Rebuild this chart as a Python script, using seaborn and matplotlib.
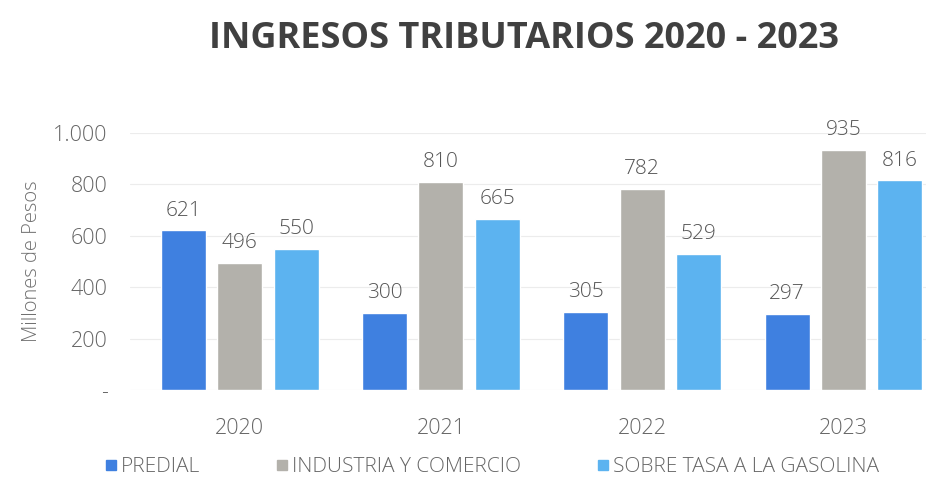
import matplotlib
matplotlib.use("Agg")
import matplotlib.pyplot as plt
import seaborn as sns
import pandas as pd
from matplotlib.lines import Line2D
from matplotlib.ticker import FuncFormatter

years = ["2020", "2021", "2022", "2023"]
series = ["PREDIAL", "INDUSTRIA Y COMERCIO", "SOBRE TASA A LA GASOLINA"]
predial = [621, 300, 305, 297]
industria = [496, 810, 782, 935]
gasolina = [550, 665, 529, 816]
colors = ["#3f80e0", "#b3b1ab", "#5cb3f0"]

df = pd.DataFrame({
    "year": years * 3,
    "serie": [series[0]] * 4 + [series[1]] * 4 + [series[2]] * 4,
    "value": predial + industria + gasolina,
})

sns.set_theme(style="white")
plt.rcParams['font.family'] = ['Open Sans', 'DejaVu Sans']
plt.rcParams['font.weight'] = 'light'

fig = plt.figure(figsize=(9.26, 4.88), dpi=100)
ax = fig.add_axes([130/926, 98/488, 1 - 130/926, 257/488])

sns.barplot(data=df, x="year", y="value", hue="serie", palette=colors,
            width=0.84, gap=0.2, ax=ax, legend=False, saturation=1)

for cont in ax.containers:
    for bar in cont:
        h = bar.get_height()
        ax.text(bar.get_x() + bar.get_width() / 2, h + 38, f"{int(round(h))}",
                ha="center", va="bottom", fontsize=15, color="#555555",
                fontweight="light")

ax.set_ylim(0, 1000)
ax.set_xlim(-0.545, 3.41)
ax.set_yticks([0, 200, 400, 600, 800, 1000])
ax.yaxis.set_major_formatter(FuncFormatter(
    lambda v, p: "-" if v == 0 else f"{int(v):,}".replace(",", ".")))
ax.grid(axis="y", color="#ececec", linewidth=0.8)
ax.set_axisbelow(True)
for s in ax.spines.values():
    s.set_visible(False)
ax.tick_params(axis="y", colors="#666666", labelsize=15.5, length=0, pad=16)
ax.tick_params(axis="x", colors="#666666", labelsize=15.5, length=0, pad=20)
ax.set_xlabel("")
ax.set_ylabel("Millones de Pesos", fontsize=14.5, color="#707070", labelpad=8,
              fontweight="light")

fig.text(0.566, 0.92, "INGRESOS TRIBUTARIOS 2020 - 2023", ha="center", va="center",
         fontsize=26, fontweight="bold", color="#404040")

handles = [Line2D([0], [0], marker="s", linestyle="", markersize=7,
                  markerfacecolor=c, markeredgecolor=c) for c in colors]
fig.legend(handles, series, loc="center", bbox_to_anchor=(0.53, 0.043), ncol=3,
           frameon=False, fontsize=15, labelcolor="#666666", columnspacing=3.5,
           handletextpad=0.1, handlelength=0.8)

fig.savefig("out.png", dpi=100)
